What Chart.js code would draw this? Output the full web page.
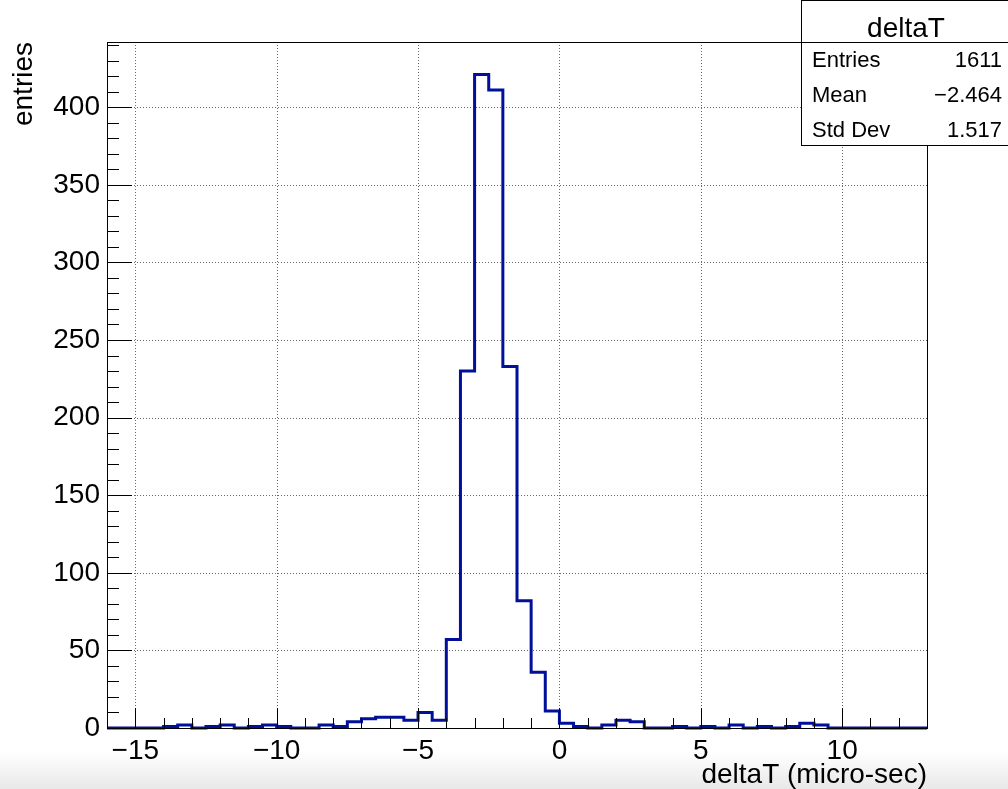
<!DOCTYPE html>
<html>
<head>
<meta charset="utf-8">
<title>deltaT</title>
<script src="https://cdn.jsdelivr.net/npm/chart.js@4.4.1/dist/chart.umd.min.js"></script>
<style>
  html, body { margin: 0; padding: 0; }
  body {
    width: 1008px; height: 789px; overflow: hidden;
    background: linear-gradient(to bottom, #ffffff 0px, #ffffff 752px, #e8e8e8 789px);
  }
  #wrap { position: absolute; left: 0; top: 0; width: 1008px; height: 789px; }
</style>
</head>
<body>
<div id="wrap"><canvas id="chart"></canvas></div>
<script>
// histogram binning
const xMin = -16;
const xMax = 13;
const binWidth = 0.5;

// bin contents, one per 0.5 bin from -16 to 13
const counts = [
  0, 0, 0, 0, 1, 2, 0, 1, 2, 0, 1, 2,      // -16 .. -10
  1, 0, 0, 2, 1, 4, 6, 7, 7, 5, 10, 5,     // -10 .. -4
  57, 230, 421, 411, 233, 82, 36, 11,      // -4 .. 0
  3, 1, 0, 2, 5, 4, 0, 0, 1, 0,            // 0 .. 5
  1, 0, 2, 0, 1, 0, 1, 3, 2, 0,            // 5 .. 10
  0, 0, 0, 0, 0, 0                         // 10 .. 13
];

const xMajorTicks = [-15, -10, -5, 0, 5, 10];
const xTickLabels = ['−15', '−10', '−5', '0', '5', '10'];
const yMajorTicks = [0, 50, 100, 150, 200, 250, 300, 350, 400];
const yTickLabels = ['0', '50', '100', '150', '200', '250', '300', '350', '400'];
const yMax = 442;

const statsTitle = 'deltaT';
const statsNames = ['Entries', 'Mean', 'Std Dev'];
const statsValues = ['1611', '−2.464', '1.517'];

const FONT = "'Liberation Sans', Arial, Helvetica, sans-serif";

// step outline points: left edge of each bin, closed at the right edge
const points = [{ x: xMin, y: 0 }];
counts.forEach((c, i) => points.push({ x: xMin + i * binWidth, y: c }));
points.push({ x: xMax, y: 0 });

// ROOT style frame: dotted grid, inner tick marks, stats box
const rootFrame = {
  id: 'rootFrame',
  beforeDatasetsDraw(chart) {
    const { ctx, chartArea: a, scales: { x, y } } = chart;
    ctx.save();
    ctx.strokeStyle = '#6a6a6a';
    ctx.lineWidth = 1;
    ctx.setLineDash([1, 2]);
    ctx.beginPath();
    xMajorTicks.forEach(v => {
      const px = Math.round(x.getPixelForValue(v)) + 0.5;
      ctx.moveTo(px, a.top);
      ctx.lineTo(px, a.bottom);
    });
    yMajorTicks.forEach(v => {
      if (v === 0) return;
      const py = Math.round(y.getPixelForValue(v)) + 0.5;
      ctx.moveTo(a.left, py);
      ctx.lineTo(a.right, py);
    });
    ctx.stroke();
    ctx.restore();
  },
  afterDatasetsDraw(chart) {
    const { ctx, chartArea: a, scales: { x, y } } = chart;
    ctx.save();
    ctx.strokeStyle = '#000';
    ctx.lineWidth = 1;
    ctx.beginPath();
    // x ticks every 1, long on the labelled ones
    for (let v = Math.ceil(xMin); v <= xMax; v++) {
      const px = Math.round(x.getPixelForValue(v)) + 0.5;
      const len = xMajorTicks.includes(v) ? 20 : 10;
      ctx.moveTo(px, a.bottom);
      ctx.lineTo(px, a.bottom - len);
    }
    // y ticks every 10
    for (let v = 0; v <= yMax; v += 10) {
      const py = Math.round(y.getPixelForValue(v)) + 0.5;
      const len = v % 50 === 0 ? 25 : 12;
      ctx.moveTo(a.left, py);
      ctx.lineTo(a.left + len, py);
    }
    ctx.stroke();
    ctx.strokeRect(Math.round(a.left) + 0.5, Math.round(a.top) + 0.5,
      Math.round(a.right - a.left), Math.round(a.bottom - a.top));
    ctx.restore();
  },
  afterDraw(chart) {
    const { ctx } = chart;
    const bx = 801, by = 0, bw = 210, bh = 145;
    ctx.save();
    ctx.fillStyle = '#fff';
    ctx.fillRect(bx, by, bw, bh);
    ctx.strokeStyle = '#000';
    ctx.lineWidth = 1;
    ctx.strokeRect(bx + 0.5, by + 0.5, bw, bh);
    ctx.beginPath();
    ctx.moveTo(bx, 42.5);
    ctx.lineTo(bx + bw, 42.5);
    ctx.stroke();

    ctx.fillStyle = '#000';
    ctx.textBaseline = 'alphabetic';
    ctx.font = '28px ' + FONT;
    ctx.textAlign = 'center';
    ctx.fillText(statsTitle, 906, 37);

    ctx.font = '22px ' + FONT;
    statsNames.forEach((name, i) => {
      const base = 67 + i * 35;
      ctx.textAlign = 'left';
      ctx.fillText(name, 812, base);
      ctx.textAlign = 'right';
      ctx.fillText(statsValues[i], 1002, base);
    });
    ctx.restore();
  }
};

new Chart(document.getElementById('chart'), {
  type: 'line',
  data: {
    datasets: [{
      label: 'deltaT',
      data: points,
      borderColor: '#00109a',
      borderWidth: 3,
      pointRadius: 0,
      stepped: true,
      fill: false,
      clip: 4
    }]
  },
  options: {
    responsive: true,
    maintainAspectRatio: false,
    animation: false,
    layout: { padding: { top: 42, right: 81, left: 0, bottom: 0 } },
    plugins: {
      legend: { display: false },
      tooltip: { enabled: false }
    },
    scales: {
      x: {
        type: 'linear',
        min: xMin,
        max: xMax,
        border: { display: false },
        grid: { display: false, drawTicks: false },
        afterBuildTicks: s => { s.ticks = xMajorTicks.map(v => ({ value: v })); },
        afterFit: s => { s.height = 61; },
        ticks: {
          autoSkip: false,
          maxRotation: 0,
          padding: 6,
          color: '#000',
          font: { family: FONT, size: 28 },
          callback: v => xTickLabels[xMajorTicks.indexOf(v)]
        },
        title: {
          display: true,
          text: 'deltaT (micro-sec)',
          align: 'end',
          color: '#000',
          font: { family: FONT, size: 28, lineHeight: 1 },
          padding: 0
        }
      },
      y: {
        type: 'linear',
        min: 0,
        max: yMax,
        border: { display: false },
        grid: { display: false, drawTicks: false },
        afterBuildTicks: s => { s.ticks = yMajorTicks.map(v => ({ value: v })); },
        afterFit: s => { s.width = 107; },
        ticks: {
          autoSkip: false,
          padding: 7,
          color: '#000',
          font: { family: FONT, size: 28 },
          callback: v => yTickLabels[yMajorTicks.indexOf(v)]
        },
        title: {
          display: true,
          text: 'entries',
          align: 'end',
          color: '#000',
          font: { family: FONT, size: 28, lineHeight: 1 },
          padding: { top: 10, bottom: 0 }
        }
      }
    }
  },
  plugins: [rootFrame]
});
</script>
</body>
</html>
